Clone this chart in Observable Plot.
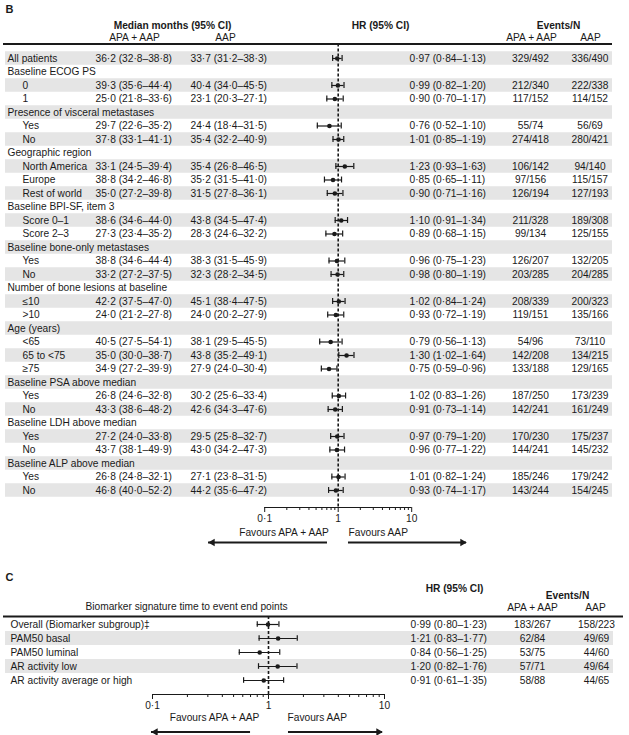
<!DOCTYPE html>
<html><head><meta charset="utf-8">
<script src="https://cdn.jsdelivr.net/npm/d3@7"></script>
<script src="https://cdn.jsdelivr.net/npm/@observablehq/plot@0.6"></script>
<style>
body{margin:0;background:#fff;}
#chart{width:629px;}
#chart svg{display:block;}
</style></head><body><div id="chart"></div>
<script>
// ---------- Panel B data ----------
const subgroupsB = ["All patients","Baseline ECOG PS","0","1","Presence of visceral metastases","Yes","No",
  "Geographic region","North America","Europe","Rest of world","Baseline BPI-SF, item 3","Score 0–1","Score 2–3",
  "Baseline bone-only metastases","Yes","No","Number of bone lesions at baseline","≤10",">10","Age (years)","<65",
  "65 to <75","≥75","Baseline PSA above median","Yes","No","Baseline LDH above median","Yes","No",
  "Baseline ALP above median","Yes","No"];
const levelB = [0,0,1,1,0,1,1,0,1,1,1,0,1,1,0,1,1,0,1,1,0,1,1,1,0,1,1,0,1,1,0,1,1];
const apaMedB = [[36.2,32.8,38.8],null,[39.3,35.6,44.4],[25.0,21.8,33.6],null,[29.7,22.6,35.2],[37.8,33.1,41.1],
  null,[33.1,24.5,39.4],[38.8,34.2,46.8],[35.0,27.2,39.8],null,[38.6,34.6,44.0],[27.3,23.4,35.2],
  null,[38.8,34.6,44.4],[33.2,27.2,37.5],null,[42.2,37.5,47.0],[24.0,21.2,27.8],null,[40.5,27.5,54.1],
  [35.0,30.0,38.7],[34.9,27.2,39.9],null,[26.8,24.6,32.8],[43.3,38.6,48.2],null,[27.2,24.0,33.8],[43.7,38.1,49.9],
  null,[26.8,24.8,32.1],[46.8,40.0,52.2]];
const aapMedB = [[33.7,31.2,38.3],null,[40.4,34.0,45.5],[23.1,20.3,27.1],null,[24.4,18.4,31.5],[35.4,32.2,40.9],
  null,[35.4,26.8,46.5],[35.2,31.5,41.0],[31.5,27.8,36.1],null,[43.8,34.5,47.4],[28.3,24.6,32.2],
  null,[38.3,31.5,45.9],[32.3,28.2,34.5],null,[45.1,38.4,47.5],[24.0,20.2,27.9],null,[38.1,29.5,45.5],
  [43.8,35.2,49.1],[27.9,24.0,30.4],null,[30.2,25.6,33.4],[42.6,34.3,47.6],null,[29.5,25.8,32.7],[43.0,34.2,47.3],
  null,[27.1,23.8,31.5],[44.2,35.6,47.2]];
const hrB = [0.97,null,0.99,0.90,null,0.76,1.01,null,1.23,0.85,0.90,null,1.10,0.89,null,0.96,0.98,null,1.02,0.93,
  null,0.79,1.30,0.75,null,1.02,0.91,null,0.97,0.96,null,1.01,0.93];
const loB = [0.84,null,0.82,0.70,null,0.52,0.85,null,0.93,0.65,0.71,null,0.91,0.68,null,0.75,0.80,null,0.84,0.72,
  null,0.56,1.02,0.59,null,0.83,0.73,null,0.79,0.77,null,0.82,0.74];
const hiB = [1.13,null,1.20,1.17,null,1.10,1.19,null,1.63,1.11,1.16,null,1.34,1.15,null,1.23,1.19,null,1.24,1.19,
  null,1.13,1.64,0.96,null,1.26,1.14,null,1.20,1.22,null,1.24,1.17];
const eventsApaB = ["329/492",null,"212/340","117/152",null,"55/74","274/418",null,"106/142","97/156","126/194",null,
  "211/328","99/134",null,"126/207","203/285",null,"208/339","119/151",null,"54/96","142/208","133/188",null,
  "187/250","142/241",null,"170/230","144/241",null,"185/246","143/244"];
const eventsAapB = ["336/490",null,"222/338","114/152",null,"56/69","280/421",null,"94/140","115/157","127/193",null,
  "189/308","125/155",null,"132/205","204/285",null,"200/323","135/166",null,"73/110","134/215","129/165",null,
  "173/239","161/249",null,"175/237","145/232",null,"179/242","154/245"];

// ---------- Panel C data ----------
const subgroupsC = ["Overall (Biomarker subgroup)‡","PAM50 basal","PAM50 luminal","AR activity low","AR activity average or high"];
const hrC = [0.99,1.21,0.84,1.20,0.91];
const loC = [0.80,0.83,0.56,0.82,0.61];
const hiC = [1.23,1.77,1.25,1.76,1.35];
const eventsApaC = ["183/267","62/84","53/75","57/71","58/88"];
const eventsAapC = ["158/223","49/69","44/60","49/64","44/65"];

// ---------- axis ticks ----------
const majorTicks = [0.1, 1, 10];
const minorTicks = [0.2,0.3,0.4,0.5,0.6,0.7,0.8,0.9,2,3,4,5,6,7,8,9];

// ---------- helpers ----------
const INK = "#1a1a1a", SHADE = "#e5e5e5";
const FONT = "'Liberation Sans', Arial, Helvetica, sans-serif";
const FS = "10.2px";
const md = s => String(s).replace(/\./g, "·");
const f1 = v => md(v.toFixed(1));
const f2 = v => md(v.toFixed(2));
const medTxt = m => m ? `${f1(m[0])} (${f1(m[1])}–${f1(m[2])})` : "";
const hrTxt = d => `${f2(d.hr)} (${f2(d.lo)}–${f2(d.hi)})`;

function txt(s, x, y, o = {}) {
  return Plot.text([s], {text: d => d, frameAnchor: "top-left", dx: x, dy: y,
    textAnchor: "middle", lineAnchor: "middle", fill: INK, ...o});
}
function col(data, text, x, anchor, o = {}) {
  return Plot.text(data, {y: "row", text, frameAnchor: "left", dx: x,
    textAnchor: anchor, lineAnchor: "middle", fill: INK, ...o});
}
function forest(est, capHalf) {
  return [
    Plot.ruleY(est, {x1: "lo", x2: "hi", y: "row", stroke: INK, strokeWidth: 1.2}),
    Plot.ruleX(est, {x: "lo", y1: d => d.row - capHalf, y2: d => d.row + capHalf, stroke: INK, strokeWidth: 1.2}),
    Plot.ruleX(est, {x: "hi", y1: d => d.row - capHalf, y2: d => d.row + capHalf, stroke: INK, strokeWidth: 1.2}),
    Plot.dot(est, {x: "hr", y: "row", r: 2.3, fill: INK, stroke: "none"})
  ];
}
function axisMarks() {
  return [
    Plot.axisX({ticks: majorTicks, tickSize: 5, tickPadding: 2, tickFormat: v => md(v), stroke: INK, fill: INK, label: null}),
    Plot.axisX({ticks: minorTicks, tickSize: 3, tickFormat: () => "", stroke: INK, label: null})
  ];
}
function arrows(row, left, right) {
  return [
    Plot.ruleY([row], {x1: left[0], x2: left[1], stroke: INK, strokeWidth: 2}),
    Plot.ruleY([row], {x1: right[0], x2: right[1], stroke: INK, strokeWidth: 2}),
    Plot.dot([row], {x: left[1], y: d => d, symbol: "triangle", rotate: -90, r: 2.8, fill: INK, stroke: "none", dx: 4}),
    Plot.dot([row], {x: right[1], y: d => d, symbol: "triangle", rotate: 90, r: 2.8, fill: INK, stroke: "none", dx: -4})
  ];
}

// ---------- Panel B ----------
const rowsB = subgroupsB.map((label, i) => ({row: i, label, level: levelB[i], apa: apaMedB[i], aap: aapMedB[i],
  hr: hrB[i], lo: loB[i], hi: hiB[i], eA: eventsApaB[i], eB: eventsAapB[i]}));
const estB = rowsB.filter(d => d.hr != null);
const HEAD_B = -1.07, AXIS_B = 33.26, ARROW_B = 35.85;

const plotB = Plot.plot({
  width: 629, height: 560,
  marginTop: 0, marginLeft: 0, marginRight: 0, marginBottom: 53,
  style: {fontFamily: FONT, fontSize: FS, color: INK, background: "white"},
  x: {type: "log", domain: [0.1, 10], range: [264.2, 411.2], label: null},
  y: {domain: [0, 32], range: [58, 490], axis: null},
  marks: [
    Plot.rect(rowsB.filter(d => d.row % 2 === 0), {y1: d => d.row - 0.5, y2: d => d.row + 0.5, fill: SHADE, insetLeft: 5, insetRight: 17}),
    Plot.ruleY([HEAD_B], {stroke: INK, strokeWidth: 2, insetLeft: 3, insetRight: 17}),
    txt("B", 5, 9, {textAnchor: "start", fontWeight: "bold", fontSize: "11px"}),
    txt("Median months (95% CI)", 172, 25, {fontWeight: "bold"}),
    txt("APA + AAP", 134, 37),
    txt("AAP", 225, 37),
    txt("HR (95% CI)", 380, 25, {fontWeight: "bold"}),
    txt("Events/N", 558, 25, {fontWeight: "bold"}),
    txt("APA + AAP", 531, 37),
    txt("AAP", 590, 37),
    col(rowsB.filter(d => d.level === 0), "label", 7, "start"),
    col(rowsB.filter(d => d.level === 1), "label", 22, "start"),
    col(estB, d => medTxt(d.apa), 95, "start"),
    col(estB, d => medTxt(d.aap), 190, "start"),
    col(estB, hrTxt, 409, "start"),
    col(estB, "eA", 530, "middle"),
    col(estB, "eB", 589.5, "middle"),
    Plot.ruleX([1], {y1: HEAD_B, y2: AXIS_B, stroke: INK, strokeWidth: 1.6, strokeDasharray: "3,2"}),
    ...forest(estB, 0.22),
    Plot.ruleY([AXIS_B], {x1: 0.1, x2: 10, stroke: INK, strokeWidth: 1}),
    ...axisMarks(),
    txt("Favours APA + AAP", 283.5, 532),
    txt("Favours AAP", 348, 532, {textAnchor: "start"}),
    ...arrows(ARROW_B, [0.715, 0.0172], [1.38, 55.6])
  ]
});

// ---------- Panel C ----------
const rowsC = subgroupsC.map((label, i) => ({row: i, label, hr: hrC[i], lo: loC[i], hi: hiC[i], eA: eventsApaC[i], eB: eventsAapC[i]}));
const HEAD_C = -0.571, AXIS_C = 5, ARROW_C = 7.68;

const plotC = Plot.plot({
  width: 629, height: 175,
  marginTop: 0, marginLeft: 0, marginRight: 0, marginBottom: 41,
  style: {fontFamily: FONT, fontSize: FS, color: INK, background: "white"},
  x: {type: "log", domain: [0.1, 10], range: [152, 384], label: null},
  y: {domain: [0, 4], range: [64, 120], axis: null},
  marks: [
    Plot.rect(rowsC.filter(d => d.row % 2 === 1), {y1: d => d.row - 0.5, y2: d => d.row + 0.5, fill: SHADE, insetLeft: 5, insetRight: 16}),
    Plot.ruleY([HEAD_C], {stroke: INK, strokeWidth: 2, insetLeft: 3, insetRight: 6}),
    txt("C", 5, 17, {textAnchor: "start", fontWeight: "bold", fontSize: "11px"}),
    txt("HR (95% CI)", 454, 28, {fontWeight: "bold"}),
    txt("Events/N", 567, 35, {fontWeight: "bold"}),
    txt("Biomarker signature time to event end points", 186, 46),
    txt("APA + AAP", 532, 47),
    txt("AAP", 595, 47),
    col(rowsC, "label", 10, "start"),
    col(rowsC, hrTxt, 410, "start"),
    col(rowsC, "eA", 532, "middle"),
    col(rowsC, "eB", 596, "middle"),
    Plot.ruleX([1], {y1: HEAD_C, y2: AXIS_C, stroke: INK, strokeWidth: 1.6, strokeDasharray: "3,2"}),
    ...forest(rowsC, 0.2),
    Plot.ruleY([AXIS_C], {x1: 0.1, x2: 10, stroke: INK, strokeWidth: 1}),
    ...axisMarks(),
    txt("Favours APA + AAP", 214, 157),
    txt("Favours AAP", 287, 157, {textAnchor: "start"}),
    ...arrows(ARROW_C, [0.70, 0.098], [1.487, 9.61])
  ]
});

const host = document.getElementById("chart");
host.appendChild(plotB);
host.appendChild(plotC);
</script></body></html>
